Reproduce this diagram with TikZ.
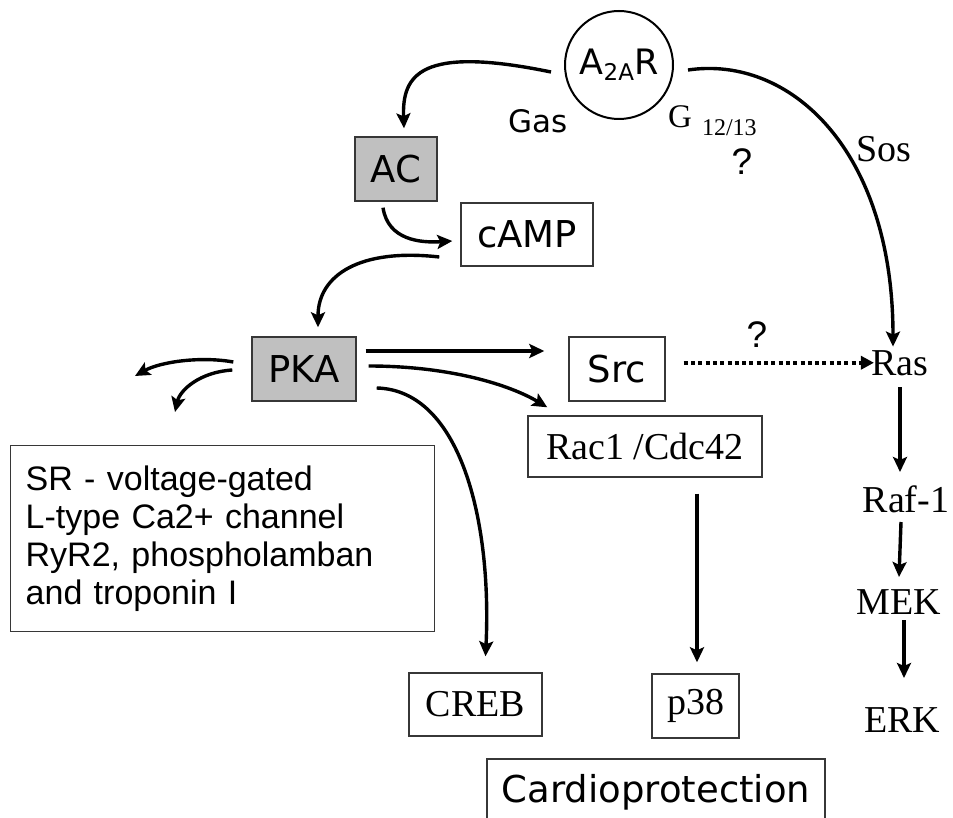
\documentclass[tikz,border=0pt]{standalone}
\usepackage{fontspec}
\setmainfont{Liberation Serif}
\newfontfamily\comicfont{DejaVu Sans}
\newfontfamily\arialfont{Liberation Sans}
\usetikzlibrary{arrows.meta, positioning}
\definecolor{boxgray}{RGB}{192, 192, 192}
\definecolor{edgegray}{RGB}{55, 55, 55}

\begin{document}
\begin{tikzpicture}[x=1pt, y=-1pt,
  box/.style={draw=edgegray, line width=1.4pt, inner sep=0pt, minimum height=63pt},
  graybox/.style={box, fill=boxgray},
  comic/.style={font=\comicfont\fontsize{37}{40}\selectfont},
  serif/.style={font=\fontsize{38}{40}\selectfont},
  arr/.style={line width=3.4pt, -{Stealth[length=15pt, width=14pt, inset=3pt]}},
  dotarr/.style={line width=4pt, dash pattern=on 4pt off 3.3pt, -{Triangle[length=13pt, width=13pt]}}
]
  % 画布
  \useasboundingbox (0,0) rectangle (953,818);
  \clip (0,0) rectangle (953,818);
  \fill[white] (0,0) rectangle (953,818);

  % 受体
  \node[circle, draw, line width=2pt, minimum size=108pt, inner sep=0pt,
        font=\comicfont\fontsize{35}{35}\selectfont] (a2ar) at (619,65)
        {A\raisebox{-6pt}{\fontsize{23}{23}\selectfont 2A}R};
  \node[font=\comicfont\fontsize{31}{31}\selectfont, anchor=base] (gas) at (538,133) {Gas};
  \node[font=\fontsize{33}{33}\selectfont, anchor=base west, inner sep=0pt] (g1213) at (668,128)
        {G\hspace{10pt}\raisebox{-8pt}{\fontsize{24}{24}\selectfont 12/13}};
  \node[font=\arialfont\fontsize{37}{37}\selectfont, anchor=base] (q1) at (742,175) {?};

  % cAMP 通路
  \node[graybox, comic, minimum width=82pt, minimum height=64pt] (ac) at (396,169) {AC};
  \node[box, comic, minimum width=132pt] (camp) at (527,234.5) {cAMP};
  \node[graybox, comic, minimum width=104pt, minimum height=64pt] (pka) at (304,369) {PKA};
  \node[box, comic, minimum width=96pt, minimum height=64pt] (src) at (617,369) {Src};
  \node[box, serif, minimum width=234pt, minimum height=61pt] (rac) at (645,446.5) {Rac1 /Cdc42};
  \node[box, font=\arialfont\fontsize{34}{38}\selectfont, anchor=north west, text width=394pt,
        inner xsep=15pt, inner ysep=20pt, minimum height=185pt, align=left] (sr) at (10,445)
        {SR - voltage-gated\\ L-type Ca2+ channel\\ RyR2, phospholamban\\ and troponin I};
  \node[box, serif, minimum width=133pt] (creb) at (475.5,704.5) {CREB};
  \node[box, serif, minimum width=87pt, minimum height=64pt] (p38) at (695.5,706) {p38};
  \node[box, comic, minimum width=338pt, minimum height=66pt] (cardio) at (656,792) {Cardioprotection};

  % Ras 级联
  \node[serif, anchor=base] (sos) at (884,162) {Sos};
  \node[serif, anchor=base] (ras) at (900,375) {Ras};
  \node[serif, anchor=base] (raf) at (906,512) {Raf-1};
  \node[serif, anchor=base] (mek) at (899,614) {MEK};
  \node[serif, anchor=base] (erk) at (902,732) {ERK};
  \node[font=\arialfont\fontsize{37}{37}\selectfont, anchor=base] (q2) at (757,348) {?};

  \coordinate (leftout) at (135,376);
  \coordinate (downout) at (175,412);

  % 箭头
  \draw[arr] ([xshift=-13pt,yshift=-7pt]a2ar.west) .. controls (420,45) and (402,75) .. ([xshift=8pt,yshift=8pt]ac.north);
  \draw[arr] ([xshift=14pt,yshift=-5pt]a2ar.east) .. controls (790,55) and (893,150) .. ([xshift=-7pt]ras.north);
  \draw[arr] ([xshift=-13pt,yshift=-6pt]ac.south) .. controls (388,240) and (420,243) .. ([xshift=-8pt,yshift=-6.5pt]camp.west);
  \draw[arr] ([xshift=-21pt,yshift=-22.5pt]camp.west) .. controls (360,248) and (318,275) .. ([xshift=14pt,yshift=9pt]pka.north);

  \draw[arr] ([xshift=9pt,yshift=18pt]pka.east) -- ([xshift=-24pt,yshift=18pt]src.west);
  \draw[arr] ([xshift=12pt,yshift=3pt]pka.east) .. controls (450,366) and (510,385) .. ([xshift=20pt,yshift=8pt]rac.north west);
  \draw[arr] ([xshift=20pt,yshift=-19pt]pka.east) .. controls (460,390) and (492,520) .. ([xshift=10pt,yshift=16pt]creb.north);
  \draw[arr] ([xshift=-18pt,yshift=7pt]pka.west) .. controls (200,356) and (160,362) .. (leftout);
  \draw[arr] ([xshift=-19pt,yshift=-1pt]pka.west) .. controls (200,372) and (180,390) .. (downout);

  \draw[dotarr] ([xshift=18pt]src.east |- ras.west) -- ([xshift=6pt]ras.west);
  \draw[arr] ([xshift=52pt,yshift=-16pt]rac.south) -- ([xshift=1.5pt,yshift=11pt]p38.north);

  \draw[arr] ([yshift=-12pt]ras.base) -- ([yshift=40pt]ras.base |- raf.base);
  \draw[arr] ([xshift=-5pt,yshift=-10pt]raf.base) -- ([yshift=37pt]mek.base);
  \draw[arr] ([xshift=5pt,yshift=-6pt]mek.base) -- ([xshift=5pt,yshift=54pt]mek.base |- erk.base);

\end{tikzpicture}
\end{document}
